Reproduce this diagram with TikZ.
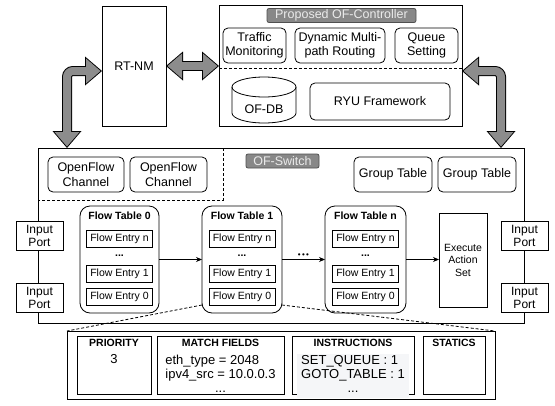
\documentclass[tikz,border=0pt]{standalone}
\usepackage{fontspec}
\setmainfont{Liberation Sans}
\usetikzlibrary{positioning,calc,arrows.meta}
\definecolor{fatgray}{RGB}{140,140,140}
\definecolor{taggray}{RGB}{136,136,136}
\definecolor{tagedge}{RGB}{80,80,80}
\definecolor{instrbg}{RGB}{245,246,248}
\begin{document}
\begin{tikzpicture}[x=1pt, y=-1pt, line width=0.8pt,
    box/.style={draw, inner sep=0pt, outer sep=0pt, align=center, anchor=north west, font=\fontsize{12.5}{14.5}\selectfont},
    rbox/.style={box, rounded corners=5pt},
    tag/.style={draw=tagedge, fill=taggray, text=white!92!black, rounded corners=2pt, inner sep=0pt, minimum height=14pt, font=\fontsize{12.5}{14}\selectfont},
    ftable/.style={box, rounded corners=10pt, minimum height=107pt},
    fttitle/.style={inner sep=0pt, font=\bfseries\fontsize{10.5}{12}\selectfont},
    entry/.style={draw, inner sep=0pt, outer sep=0pt, minimum width=66pt, minimum height=17pt, font=\fontsize{10.5}{12}\selectfont},
    edots/.style={inner sep=0pt, font=\bfseries\fontsize{10.5}{12}\selectfont},
    port/.style={box, fill=white, minimum width=47pt, minimum height=29pt, font=\fontsize{12}{13}\selectfont},
    field/.style={box, minimum height=58pt},
    fbody/.style={inner sep=0pt, font=\fontsize{13}{14}\selectfont},
    divider/.style={dash pattern=on 3pt off 2pt},
    flow/.style={-{Stealth[length=6pt, width=5pt]}},
    fatout/.tip={Triangle[width=29pt, length=17pt, line width=0pt]},
    fatin/.tip={Triangle[width=25pt, length=14.5pt, line width=0pt]},
    fatarrow/.style={draw=fatgray, line width=8pt, rounded corners=6pt, shorten <=1.5pt, shorten >=1.5pt, arrows={fatin-fatin},
      preaction={draw=black, line width=10pt, shorten <=0pt, shorten >=0pt, arrows={fatout-fatout}}}
  ]
  \useasboundingbox (0,0) rectangle (555,405);

  % Controller side
  \node[box, minimum width=64pt, minimum height=120pt] (rtnm) at (102,6) {RT-NM};
  \node[box, minimum width=243pt, minimum height=121pt] (ctrl) at (219,5) {};
  \node[tag, minimum width=149pt] (ctrltag) at (341.5,15.5) {Proposed OF-Controller};
  \node[rbox, minimum width=63pt, minimum height=35pt] (traffic) at (223,28) {Traffic\\Monitoring};
  \node[rbox, minimum width=90pt, minimum height=35pt, right=9pt of traffic] (routing) {Dynamic Multi-\\path Routing};
  \node[rbox, minimum width=63pt, minimum height=35pt, right=10pt of routing] (queue) {Queue\\Setting};
  % database drum
  \draw (232,87) -- (232,113) arc[start angle=180, end angle=0, x radius=32, y radius=10] -- (296,87);
  \draw (264,87) ellipse [x radius=32, y radius=10];
  \node[font=\fontsize{12.5}{14}\selectfont, inner sep=0pt] (ofdb) at (264,109) {OF-DB};
  \node[rbox, minimum width=140pt, minimum height=37pt] (ryu) at (310,83) {RYU Framework};
  \draw[divider] ([yshift=-2.5pt]ctrl.west) -- ([yshift=-2.5pt]ctrl.east);

  % Switch
  \node[box, minimum width=486pt, minimum height=175pt] (sw) at (38,148) {};
  \node[tag, minimum width=73pt] (swtag) at (282.5,161) {OF-Switch};
  \node[rbox, minimum width=76pt, minimum height=35pt] (ofc1) at (48,157) {OpenFlow\\Channel};
  \node[rbox, minimum width=77pt, minimum height=35pt, right=6pt of ofc1] (ofc2) {OpenFlow\\Channel};
  \node[rbox, minimum width=78pt, minimum height=35pt] (gt1) at (354,157) {Group Table};
  \node[rbox, minimum width=78pt, minimum height=35pt, right=6pt of gt1] (gt2) {Group Table};
  \coordinate (chcorner) at (223,200);
  \draw[divider] (sw.north -| chcorner) -- (chcorner) -- (chcorner -| sw.west);

  % Flow tables
  \node[ftable, minimum width=79pt] (ft0) at (80,206) {};
  \node[fttitle, below=5pt of ft0.north] (ft0title) {Flow Table 0};
  \node[entry] (ft0en) at ([yshift=-32.5pt]ft0.north) {Flow Entry n};
  \node[entry, below=18pt of ft0en] (ft0e1) {Flow Entry 1};
  \node[entry, below=6pt of ft0e1] (ft0e0) {Flow Entry 0};
  \node[edots] (ft0dots) at ($(ft0en.south)!0.5!(ft0e1.north)$) {...};

  \node[ftable, minimum width=80pt] (ft1) at (202,206) {};
  \node[fttitle, below=5pt of ft1.north] (ft1title) {Flow Table 1};
  \node[entry] (ft1en) at ([yshift=-32.5pt]ft1.north) {Flow Entry n};
  \node[entry, below=18pt of ft1en] (ft1e1) {Flow Entry 1};
  \node[entry, below=6pt of ft1e1] (ft1e0) {Flow Entry 0};
  \node[edots] (ft1dots) at ($(ft1en.south)!0.5!(ft1e1.north)$) {...};

  \node[ftable, minimum width=81pt] (ftn) at (325,206) {};
  \node[fttitle, below=5pt of ftn.north] (ftntitle) {Flow Table n};
  \node[entry] (ftnen) at ([yshift=-32.5pt]ftn.north) {Flow Entry n};
  \node[entry, below=18pt of ftnen] (ftne1) {Flow Entry 1};
  \node[entry, below=6pt of ftne1] (ftne0) {Flow Entry 0};
  \node[edots] (ftndots) at ($(ftnen.south)!0.5!(ftne1.north)$) {...};

  \node[box, minimum width=48pt, minimum height=94pt, font=\fontsize{10.5}{12.5}\selectfont] (exec) at (439,213) {Execute\\Action\\Set};

  % Ports
  \node[port] (inl1) at (16,221) {Input\\Port};
  \node[port] (inl2) at (16,283) {Input\\Port};
  \node[port] (inr1) at (501,221) {Input\\Port};
  \node[port] (inr2) at (501,283) {Input\\Port};

  % Entry detail
  \node[box, minimum width=428pt, minimum height=68pt] (dframe) at (67,331) {};
  \node[field, minimum width=74pt] (prio) at (77,336) {};
  \node[field, minimum width=127pt] (match) at (157,336) {};
  \node[field, minimum width=122pt] (instr) at (292,336) {};
  \node[field, minimum width=62pt] (stat) at (423,336) {};
  \node[fttitle, below=3pt of prio.north] (priohead) {PRIORITY};
  \node[fbody, below=7pt of priohead] (priobody) {3};
  \node[fttitle, below=3pt of match.north] (matchhead) {MATCH FIELDS};
  \node[fbody, below=7pt of matchhead] (matchbody)
    {\begin{tabular}{@{}l@{}}eth\_type = 2048\\ipv4\_src = 10.0.0.3\\\multicolumn{1}{@{}c@{}}{...}\end{tabular}};
  \node[fttitle, below=3pt of instr.north] (instrhead) {INSTRUCTIONS};
  \node[fbody, fill=instrbg, inner xsep=4pt, inner ysep=1pt, below=6pt of instrhead] (instrbody)
    {\begin{tabular}{@{}l@{}}SET\_QUEUE : 1\\GOTO\_TABLE : 1\\\multicolumn{1}{@{}c@{}}{...}\end{tabular}};
  \node[fttitle, below=3pt of stat.north] (stathead) {STATICS};

  % Connections
  \coordinate (ldrop) at (67,148);
  \coordinate (rdrop) at (501,148);
  \draw[fatarrow] (rtnm.east) -- (rtnm.east -| ctrl.west);
  \draw[fatarrow] (ldrop) |- ([yshift=-5pt]rtnm.west);
  \draw[fatarrow] ([yshift=-5.5pt]ctrl.east) -| (rdrop);

  \draw[flow] (ft0) -- (ft1);
  \draw[flow] (ft1) -- node[above=2pt, inner sep=0pt, font=\fontsize{8}{8}\selectfont] (ftgap) {\textbullet\,\textbullet\,\textbullet} (ftn);
  \draw[flow] (ftn.east) -- (ftn.east -| exec.west);

  \draw[divider] ([yshift=8pt]ft1.south west) -- (dframe.north west);
  \draw[divider] ([yshift=8pt]ft1.south east) -- (dframe.north east);
\end{tikzpicture}
\end{document}
